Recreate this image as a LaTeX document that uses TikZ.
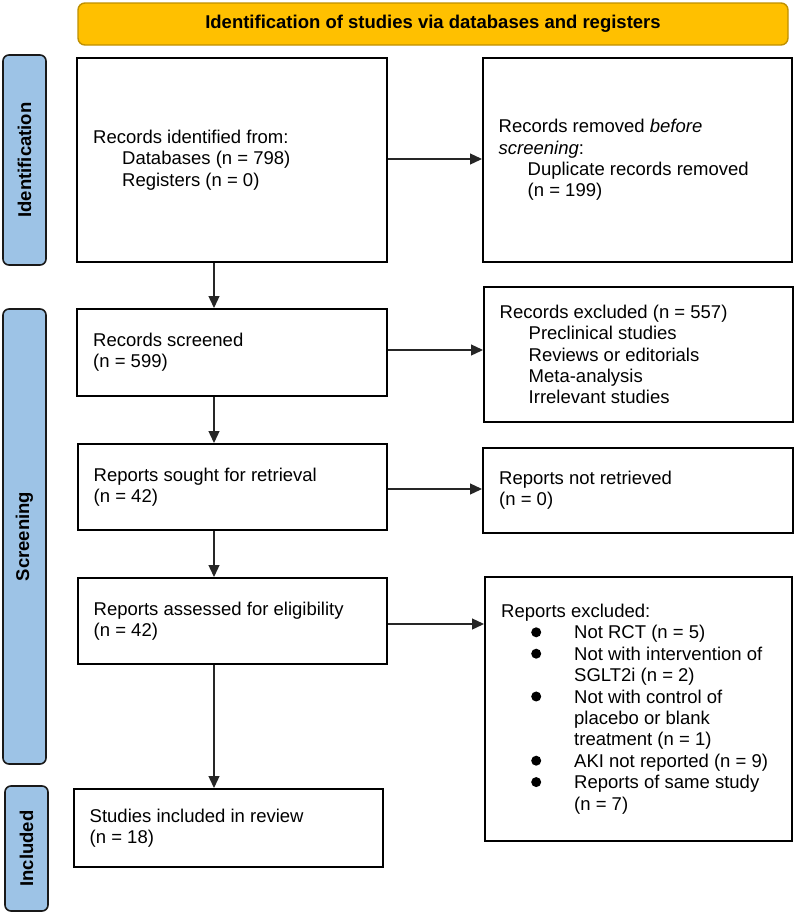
\documentclass[tikz,border=0pt]{standalone}
\usepackage{fontspec}
\setmainfont{Liberation Sans}
\usetikzlibrary{arrows.meta}
\definecolor{gold}{HTML}{FFC000}
\definecolor{golddark}{HTML}{BF9000}
\definecolor{sideblue}{HTML}{9DC3E6}
\newcommand{\bitem}[1]{\makebox[73pt][l]{\hspace*{30pt}\raisebox{1.6pt}{\tikz\fill (0,0) circle (5pt);}}#1}
\newcommand{\cont}{\hspace*{73pt}}
\newcommand{\ind}{\hspace*{29pt}}
\tikzset{
  box/.style={draw=black, line width=2pt, fill=white, inner sep=0pt},
  txt/.style={align=left, inner sep=0pt, anchor=west, font=\fontsize{18.5}{21.4}\selectfont},
  side/.style={draw=black!90, line width=1.6pt, fill=sideblue, rounded corners=6pt, rotate=90, inner sep=0pt, font=\fontsize{18.5}{21.4}\selectfont\bfseries},
  banner/.style={draw=golddark, line width=1.4pt, fill=gold, rounded corners=7pt, inner sep=0pt, font=\fontsize{18.5}{21.4}\selectfont\bfseries},
  arr/.style={draw=black!85, line width=1.3pt, -{Triangle[length=12pt,width=11pt]}}
}
\begin{document}
\begin{tikzpicture}[x=1pt,y=-1pt]
\useasboundingbox (0,0) rectangle (796,914);
% banner
\node[banner, minimum width=710, minimum height=42] (ban) at (433,24) {Identification of studies via databases and registers};
% side labels
\node[side, minimum width=210, minimum height=43] (s1) at (24.5,160) {Identification};
\node[side, minimum width=455, minimum height=43] (s2) at (24.5,536.5) {Screening};
\node[side, minimum width=125, minimum height=43] (s3) at (26.5,848.5) {Included};
% boxes
\node[box, minimum width=310, minimum height=204] (b1) at (232,160) {};
\node[box, minimum width=309, minimum height=204] (b2) at (637.5,160) {};
\node[box, minimum width=310, minimum height=87] (b3) at (232,352.5) {};
\node[box, minimum width=309, minimum height=135] (b4) at (638.5,354.5) {};
\node[box, minimum width=309, minimum height=86] (b5) at (232.5,487) {};
\node[box, minimum width=310, minimum height=85] (b6) at (638,490.5) {};
\node[box, minimum width=309, minimum height=86] (b7) at (232.5,621) {};
\node[box, minimum width=307, minimum height=264] (b8) at (638.5,709) {};
\node[box, minimum width=309, minimum height=78] (b9) at (228.5,828) {};
% texts
\node[txt] (t1) at ([xshift=17pt]b1.west) {Records identified from:\\ \ind Databases (n = 798)\\ \ind Registers (n = 0)};
\node[txt] (t2) at ([xshift=16.5pt]b2.west) {Records removed \emph{before}\\ \emph{screening}:\\ \ind Duplicate records removed\\ \ind (n = 199)};
\node[txt] (t3) at ([xshift=17pt]b3.west) {Records screened\\ (n = 599)};
\node[txt] (t4) at ([xshift=16.5pt]b4.west) {Records excluded (n = 557)\\ \ind Preclinical studies\\ \ind Reviews or editorials\\ \ind Meta-analysis\\ \ind Irrelevant studies};
\node[txt] (t5) at ([xshift=16.5pt]b5.west) {Reports sought for retrieval\\ (n = 42)};
\node[txt] (t6) at ([xshift=17pt]b6.west) {Reports not retrieved\\ (n = 0)};
\node[txt] (t7) at ([xshift=16.5pt]b7.west) {Reports assessed for eligibility\\ (n = 42)};
\node[txt] (t8) at ([xshift=17pt]b8.west) {Reports excluded:\\
\bitem{Not RCT (n = 5)}\\
\bitem{Not with intervention of}\\
\cont SGLT2i (n = 2)\\
\bitem{Not with control of}\\
\cont placebo or blank\\
\cont treatment (n = 1)\\
\bitem{AKI not reported (n = 9)}\\
\bitem{Reports of same study}\\
\cont (n = 7)};
\node[txt] (t9) at ([xshift=16.5pt]b9.west) {Studies included in review\\ (n = 18)};
% arrows
\coordinate (vx) at (214,0);
\draw[arr] (b1.south -| vx) -- (b3.north -| vx);
\draw[arr] (b3.south -| vx) -- (b5.north -| vx);
\draw[arr] (b5.south -| vx) -- (b7.north -| vx);
\draw[arr] (b7.south -| vx) -- (b9.north -| vx);
\draw[arr] ([yshift=1pt]b1.east) -- ([yshift=1pt]b1.east -| b2.west);
\draw[arr] ([yshift=2.5pt]b3.east) -- ([yshift=2.5pt]b3.east -| b4.west);
\draw[arr] ([yshift=-2pt]b5.east) -- ([yshift=-2pt]b5.east -| b6.west);
\draw[arr] ([yshift=-3pt]b7.east) -- ([yshift=-3pt]b7.east -| b8.west);
\end{tikzpicture}
\end{document}
